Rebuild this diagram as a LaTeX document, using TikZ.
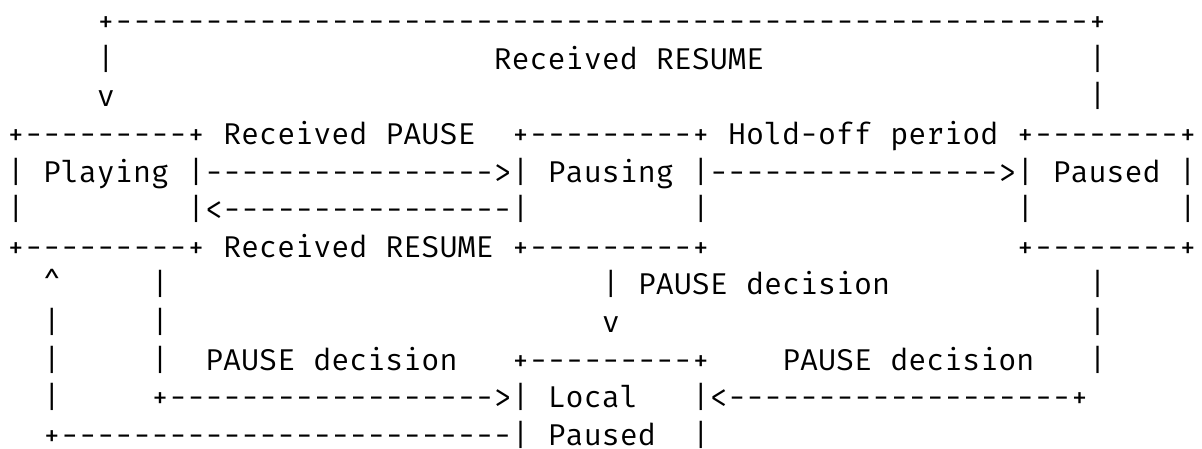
\documentclass[tikz,border=0pt]{standalone}
\usepackage{fontspec}
\setmonofont{Fira Mono}
\tikzset{
  ascii/.style={anchor=base west, inner sep=0pt, outer sep=0pt, text=black,
    font=\ttfamily\fontsize{30.05pt}{36pt}\selectfont}
}
\newcommand\seg[4]{\node[ascii] (#1) at ({6.8+18.03*#2},{31.7+37.6*#3}) {#4};}
\begin{document}
\begin{tikzpicture}[x=1pt,y=-1pt]
\useasboundingbox[fill=white] (0,0) rectangle (1202,449);
% row 0
\seg{top}{5}{0}{+------------------------------------------------------+}
% row 1
\seg{topL1}{5}{1}{|}
\seg{resumeTop}{27}{1}{Received RESUME}
\seg{topR1}{60}{1}{|}
% row 2
\seg{topArrow}{5}{2}{v}
\seg{topR2}{60}{2}{|}
% row 3
\seg{playTop}{0}{3}{+---------+}
\seg{lblPause}{12}{3}{Received PAUSE}
\seg{pausingTop}{28}{3}{+---------+}
\seg{lblHold}{40}{3}{Hold-off period}
\seg{pausedTop}{56}{3}{+--------+}
% row 4
\seg{row4}{0}{4}{| Playing |---------------->| Pausing |---------------->| Paused |}
% row 5
\seg{playL5}{0}{5}{|}
\seg{back}{10}{5}{|<----------------|}
\seg{pausingR5}{38}{5}{|}
\seg{pausedL5}{56}{5}{|}
\seg{pausedR5}{65}{5}{|}
% row 6
\seg{row6}{0}{6}{+---------+ Received RESUME +---------+}
\seg{pausedBot}{56}{6}{+--------+}
% row 7
\seg{up7}{2}{7}{\textasciicircum}
\seg{v7}{8}{7}{|}
\seg{dec7}{33}{7}{| PAUSE decision}
\seg{r7}{60}{7}{|}
% row 8
\seg{up8}{2}{8}{|}
\seg{v8}{8}{8}{|}
\seg{arr8}{33}{8}{v}
\seg{r8}{60}{8}{|}
% row 9
\seg{up9}{2}{9}{|}
\seg{v9}{8}{9}{|}
\seg{dec9a}{11}{9}{PAUSE decision}
\seg{localTop}{28}{9}{+---------+}
\seg{dec9b}{43}{9}{PAUSE decision}
\seg{r9}{60}{9}{|}
% row 10
\seg{up10}{2}{10}{|}
\seg{in10}{8}{10}{+------------------>| Local}
\seg{in10b}{38}{10}{|<-------------------+}
% row 11
\seg{out11}{2}{11}{+-------------------------| Paused}
\seg{localR11}{38}{11}{|}
\end{tikzpicture}
\end{document}
